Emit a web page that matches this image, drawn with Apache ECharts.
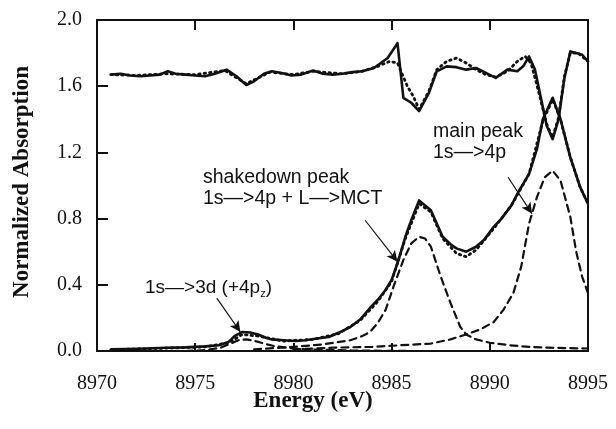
<!DOCTYPE html>
<html>
<head>
<meta charset="utf-8">
<script src="https://cdn.jsdelivr.net/npm/echarts@6/dist/echarts.min.js"></script>
<style>html,body{margin:0;padding:0;background:#fff}#c{width:616px;height:429px}</style>
</head>
<body>
<div id="c"></div>
<script>
// ---- data (energy in eV, normalized absorption) ----
const xTicks = [8970, 8975, 8980, 8985, 8990, 8995];
const yTicks = [0.0, 0.4, 0.8, 1.2, 1.6, 2.0];

const topSolidE = [8970.7,8971.2,8971.7,8972.2,8972.7,8973.2,8973.6,8974.0,8974.5,8975.0,8975.5,8976.0,8976.6,8977.1,8977.6,8978.0,8978.5,8978.9,8979.4,8979.9,8980.4,8981.0,8981.5,8982.0,8982.5,8983.0,8983.5,8984.1,8984.8,8985.3,8985.6,8986.0,8986.4,8986.9,8987.3,8987.8,8988.3,8988.8,8989.3,8989.8,8990.3,8990.9,8991.4,8991.7,8992.0,8992.3,8992.6,8992.9,8993.2,8993.5,8993.8,8994.1,8994.4,8994.7,8995.0];
const topSolidV = [1.670,1.675,1.665,1.660,1.665,1.670,1.690,1.675,1.670,1.665,1.660,1.675,1.700,1.660,1.607,1.630,1.675,1.690,1.680,1.665,1.670,1.695,1.675,1.670,1.675,1.685,1.690,1.710,1.770,1.860,1.530,1.500,1.450,1.560,1.690,1.720,1.715,1.700,1.710,1.680,1.650,1.700,1.690,1.720,1.780,1.700,1.530,1.360,1.280,1.400,1.650,1.810,1.800,1.790,1.750];

const topFitE = [8970.7,8972.0,8973.5,8975.0,8976.5,8977.6,8978.8,8980.0,8981.0,8982.5,8983.5,8984.3,8984.9,8985.3,8985.8,8986.1,8986.4,8986.9,8987.3,8987.8,8988.3,8988.8,8989.3,8989.8,8990.3,8990.9,8991.4,8991.8,8992.1,8992.5,8992.9,8993.2,8993.5,8993.8,8994.1,8994.5,8995.0];
const topFitV = [1.670,1.665,1.675,1.670,1.695,1.615,1.685,1.670,1.690,1.675,1.690,1.720,1.750,1.740,1.600,1.540,1.460,1.570,1.700,1.750,1.770,1.740,1.700,1.670,1.655,1.690,1.750,1.780,1.740,1.560,1.370,1.290,1.410,1.660,1.800,1.800,1.750];

const mainSolidE = [8970.7,8971.5,8972.5,8973.5,8974.5,8975.5,8976.2,8976.7,8977.0,8977.4,8977.8,8978.2,8978.6,8978.9,8979.5,8980.1,8980.6,8981.2,8981.8,8982.3,8982.9,8983.4,8983.9,8984.3,8984.7,8985.0,8985.3,8985.7,8986.0,8986.4,8987.0,8987.3,8987.6,8988.0,8988.3,8988.8,8989.3,8989.7,8990.2,8990.6,8991.1,8991.5,8992.0,8992.4,8992.7,8993.2,8993.6,8994.1,8994.6,8995.0];
const mainSolidV = [0.010,0.012,0.015,0.020,0.022,0.028,0.035,0.055,0.090,0.115,0.112,0.100,0.080,0.070,0.065,0.060,0.065,0.075,0.085,0.110,0.145,0.190,0.260,0.310,0.370,0.430,0.530,0.690,0.790,0.910,0.850,0.770,0.690,0.645,0.620,0.600,0.630,0.670,0.750,0.800,0.880,0.970,1.070,1.220,1.400,1.530,1.400,1.170,0.990,0.890];

const mainFitE = [8970.7,8973.0,8975.5,8976.7,8977.4,8978.2,8979.5,8981.0,8982.3,8983.4,8984.3,8985.0,8985.7,8986.4,8987.0,8987.6,8988.3,8988.8,8989.3,8990.2,8991.1,8992.0,8992.7,8993.2,8993.6,8994.1,8994.6,8995.0];
const mainFitV = [0.008,0.015,0.025,0.050,0.100,0.090,0.060,0.070,0.105,0.185,0.300,0.420,0.680,0.890,0.840,0.680,0.590,0.570,0.610,0.740,0.880,1.070,1.390,1.520,1.400,1.170,0.990,0.890];

const preEdgeE = [8974.5,8975.5,8976.3,8976.8,8977.2,8977.6,8978.0,8978.5,8979.0,8980.0,8981.0,8983.0,8986.0];
const preEdgeV = [0.000,0.005,0.020,0.045,0.065,0.070,0.062,0.045,0.030,0.015,0.008,0.003,0.000];

const shakedownE = [8978.0,8980.0,8981.5,8982.9,8983.5,8983.9,8984.3,8984.7,8985.1,8985.6,8986.0,8986.4,8986.7,8987.0,8987.5,8988.0,8988.5,8988.8,8989.3,8990.0,8991.0,8992.0,8993.0,8995.0];
const shakedownV = [0.010,0.025,0.040,0.065,0.090,0.115,0.170,0.250,0.390,0.550,0.650,0.690,0.680,0.630,0.450,0.290,0.145,0.100,0.070,0.050,0.035,0.025,0.020,0.015];

const mainPeakE = [8980.0,8982.0,8984.0,8985.5,8987.0,8988.0,8988.8,8989.5,8990.2,8990.7,8991.2,8991.6,8992.0,8992.4,8992.8,8993.2,8993.6,8994.1,8994.4,8994.7,8995.0];
const mainPeakV = [0.010,0.020,0.025,0.035,0.045,0.070,0.100,0.130,0.175,0.250,0.350,0.510,0.770,0.930,1.050,1.090,1.030,0.810,0.600,0.450,0.350];

// annotation arrows: [fromE, fromV, toE, toV]
const arrow3d = [8976.1, 0.32, 8977.3, 0.115];
const arrowShake = [8983.65, 0.79, 8985.3, 0.54];
const arrowMain = [8990.93, 1.05, 8992.15, 0.83];

// ---- chart ----
const zip = (a, b) => a.map((x, i) => [x, b[i]]);
const ink = '#111';
const serif = '"Liberation Serif", "Times New Roman", serif';
const sans = '"Liberation Sans", Arial, Helvetica, sans-serif';

const chart = echarts.init(document.getElementById('c'), null, {renderer: 'canvas'});

function line(name, e, v, type, width) {
  return {
    name, type: 'line', data: zip(e, v), showSymbol: false, symbol: 'none',
    xAxisIndex: 0, yAxisIndex: 0, animation: false, silent: true,
    lineStyle: {color: ink, width: width, type: type, cap: type === 'solid' ? 'butt' : 'round', join: 'round'},
    z: type === 'solid' ? 4 : 3
  };
}

const yMin = yTicks[0], yMax = yTicks[yTicks.length - 1];
const xMin = xTicks[0], xMax = xTicks[xTicks.length - 1];

const arrowData = [arrow3d, arrowShake, arrowMain].map(a => [
  {coord: [a[0], a[1]]},
  {coord: [a[2], a[3]]}
]);

// inward tick marks as short segments in axis units, starting a hair inside the frame
const eps = 0.004, epsX = 0.03;
const topLen = 0.06, botLen = 0.048, leftLen = 0.56;
const tickData = [];
xTicks.slice(1, -1).forEach(t => {
  tickData.push([{coord: [t, yMax - eps]}, {coord: [t, yMax - topLen]}]);
  tickData.push([{coord: [t, yMin + eps]}, {coord: [t, yMin + botLen]}]);
});
yTicks.slice(1, -1).forEach(t => {
  tickData.push([{coord: [xMin + epsX, t]}, {coord: [xMin + leftLen, t]}]);
});

const series = [
  line('preEdge', preEdgeE, preEdgeV, [7, 5], 2.2),
  line('shakedown', shakedownE, shakedownV, [7, 5], 2.2),
  line('mainPeak', mainPeakE, mainPeakV, [7, 5], 2.2),
  line('topFit', topFitE, topFitV, [1.5, 4], 2.8),
  line('mainFit', mainFitE, mainFitV, [1.5, 4], 2.8),
  line('topSolid', topSolidE, topSolidV, 'solid', 2.6),
  line('mainSolid', mainSolidE, mainSolidV, 'solid', 2.6)
];
series[6].markLine = {
  silent: true, animation: false, symbol: ['none', 'arrow'], symbolSize: [8, 11],
  lineStyle: {color: ink, width: 1.2, type: 'solid'},
  label: {show: false}, data: arrowData.concat([])
};
series[5].markLine = {
  silent: true, animation: false, symbol: ['none', 'none'],
  lineStyle: {color: ink, width: 2, type: 'solid'},
  label: {show: false}, data: tickData
};

const option = {
  backgroundColor: '#fff',
  animation: false,
  grid: {left: 97, right: 28, top: 20, bottom: 78, containLabel: false},
  xAxis: [{
    type: 'value', min: xMin, max: xMax, interval: 5, position: 'bottom',
    axisLine: {show: true, onZero: false, lineStyle: {color: ink, width: 2}},
    axisTick: {show: false},
    axisLabel: {color: ink, fontFamily: serif, fontSize: 20, margin: 23, formatter: v => String(v)},
    splitLine: {show: false}
  }, {
    type: 'value', min: xMin, max: xMax, interval: 5, position: 'top',
    axisLine: {show: true, onZero: false, lineStyle: {color: ink, width: 2}},
    axisTick: {show: false}, axisLabel: {show: false}, splitLine: {show: false}
  }],
  yAxis: [{
    type: 'value', min: yMin, max: yMax, interval: 0.4, position: 'left',
    axisLine: {show: true, onZero: false, lineStyle: {color: ink, width: 2}},
    axisTick: {show: false},
    axisLabel: {color: ink, fontFamily: serif, fontSize: 20, margin: 15, formatter: v => v.toFixed(1)},
    splitLine: {show: false}
  }, {
    type: 'value', min: yMin, max: yMax, interval: 0.4, position: 'right',
    axisLine: {show: true, onZero: false, lineStyle: {color: ink, width: 2}},
    axisTick: {show: false}, axisLabel: {show: false}, splitLine: {show: false}
  }],
  graphic: [
    {type: 'text', x: 22, y: 182, rotation: Math.PI / 2, silent: true,
      style: {text: 'Normalized Absorption', font: 'bold 23px ' + serif, fill: ink, align: 'center', verticalAlign: 'middle'}},
    {type: 'text', x: 313, y: 401, silent: true,
      style: {text: 'Energy (eV)', font: 'bold 23px ' + serif, fill: ink, align: 'center', verticalAlign: 'middle'}},
    {type: 'text', x: 203, y: 188, silent: true,
      style: {text: 'shakedown peak\n1s\u2014>4p + L\u2014>MCT', font: '19.5px ' + sans, fill: ink, align: 'left', verticalAlign: 'middle', lineHeight: 21}},
    {type: 'text', x: 433, y: 142, silent: true,
      style: {text: 'main peak\n1s\u2014>4p', font: '19.5px ' + sans, fill: ink, align: 'left', verticalAlign: 'middle', lineHeight: 21}},
    {type: 'text', x: 145, y: 288, silent: true,
      style: {text: '{a|1s\u2014>3d (+4p}{s|z}{a|)}', align: 'left', verticalAlign: 'middle', fill: ink,
        rich: {a: {fontFamily: sans, fontSize: 19, color: ink, lineHeight: 22},
               s: {fontFamily: sans, fontSize: 11, color: ink, lineHeight: 22, verticalAlign: 'bottom', padding: [10, 0, 0, 0]}}}}
  ],
  series
};
chart.setOption(option);
</script>
</body>
</html>
